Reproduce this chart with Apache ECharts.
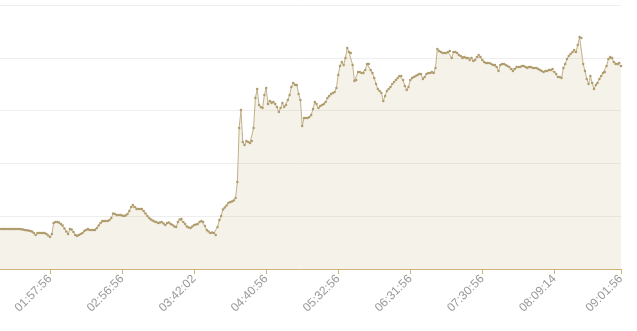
<!DOCTYPE html>
<html>
<head>
<meta charset="utf-8">
<script src="https://cdn.jsdelivr.net/npm/echarts@6/dist/echarts.min.js"></script>
<style>
html,body{margin:0;padding:0;background:#fff;overflow:hidden;}
#wrap{width:637px;height:331px;overflow:hidden;position:relative;}
#chart{width:660px;height:331px;position:absolute;left:-22px;top:0;}
</style>
</head>
<body>
<div id="wrap"><div id="chart"></div></div>
<script>
// Tick labels and the data index where each one sits
const tickIndex = [40, 80, 120, 160, 200, 240, 280, 320, 357];
const tickLabels = ['01:57:56', '02:56:56', '03:42:02', '04:40:56', '05:32:56', '06:31:56', '07:30:56', '08:09:14', '09:01:56'];

// Series values
const values1 = [
40,40,40,40,40,40,40,40,40,40,40,40,40,40,40,40,40,40,40,40,40,40,40,40,39.8,39.5,39,38.7,38.4,38,
37.5,36,34,36,36,36,36,36,35,33.5,32,35,46,47,47,46.5,45,43.5,40.5,37.5,
35,40,39.5,37,34,33,34,35,36,38,39,40,39,39,39,39,41,43.5,46,48,
48,48,48,49,51,55.5,55,54,54,54,53.5,53,53.5,55,58,62,64,62,60,60,
60,60,58,55.5,53,51,49.5,48.5,47.5,47,46,46.5,47,45.5,44,46,46.5,45,44,42.5,
42,47,49.5,50,47,45,42.5,41.5,41,42.5,44,44.5,45,47,48,47,43,39,37.5,36,
36.5,36,34,42,49,53,59.5,61.5,63.5,66,67,67.5,68.5,71,87,141,159,127,124,128
];
const values2 = [
127,126,128,141,171,180,164,162,161,174,181,165,168,166,167,165,162,157,161,166,
162,164,169,174,182,186,184,184,175,169,143,151,151,151,152,154,160,167,165,161,
163,164,165,167,171,173,175,176,177,181,194,203,207,204,211,221,217,216,204,188,
189,197,197,196,196,199,205,205,199,196,191,185,180,178,176,168,173,178,180,182,
185,187,189,191,193,193,189,183,179,182,189,191,192,193,194,195,195,190,192,195,
196,196,197,196,201,220,218,217,216,216,216,217,218,211,217,217,216,214,213,211
];
const values3 = [
212,211,211,209,211,208,209,212,214,212,209,207,206,206,206,205,204,204,202,198,
204,205,205,204,203,202,200,198,200,202,202,202,203,203,202,201,202,202,201,201,
201,200,199,198,197,198,198,199,199,200,197,195,192,192,191,201,205,210,213,215,
217,219,217,224,232,231,205,198,190,185,193,186,180,184,186,190,193,196,197,203,
210,212,211,207,205,205,206,203
];
const values = values1.concat(values2, values3);

const categories = values.map(function (_, i) {
  const k = tickIndex.indexOf(i);
  return k >= 0 ? tickLabels[k] : '';
});
const isTick = function (i) { return tickIndex.indexOf(i) >= 0; };

const chart = echarts.init(document.getElementById('chart'), null, {renderer: 'canvas'});
chart.setOption({
  animation: false,
  grid: {left: 0, right: 17, top: 5, bottom: 62, containLabel: false},
  xAxis: {
    type: 'category',
    data: categories,
    boundaryGap: false,
    axisLine: {lineStyle: {color: '#d2b27c', width: 1}},
    axisTick: {show: true, interval: function (i) { return isTick(i); }, length: 5, lineStyle: {color: '#d2b27c'}},
    axisLabel: {
      interval: function (i) { return isTick(i); },
      rotate: 45,
      color: '#999',
      fontSize: 12,
      fontFamily: 'sans-serif',
      margin: 8
    },
    splitLine: {show: false}
  },
  yAxis: {
    type: 'value',
    min: 0,
    max: 264,
    interval: 52.8,
    axisLine: {show: false},
    axisTick: {show: false},
    axisLabel: {show: false},
    splitLine: {lineStyle: {color: '#eeeeee'}}
  },
  series: [{
    type: 'line',
    data: values,
    showSymbol: true,
    showAllSymbol: true,
    symbol: 'circle',
    symbolSize: 2.5,
    itemStyle: {color: '#b09c6c'},
    lineStyle: {color: '#c2b089', width: 1},
    areaStyle: {color: 'rgba(200,180,135,0.25)'}
  }]
});
</script>
</body>
</html>
